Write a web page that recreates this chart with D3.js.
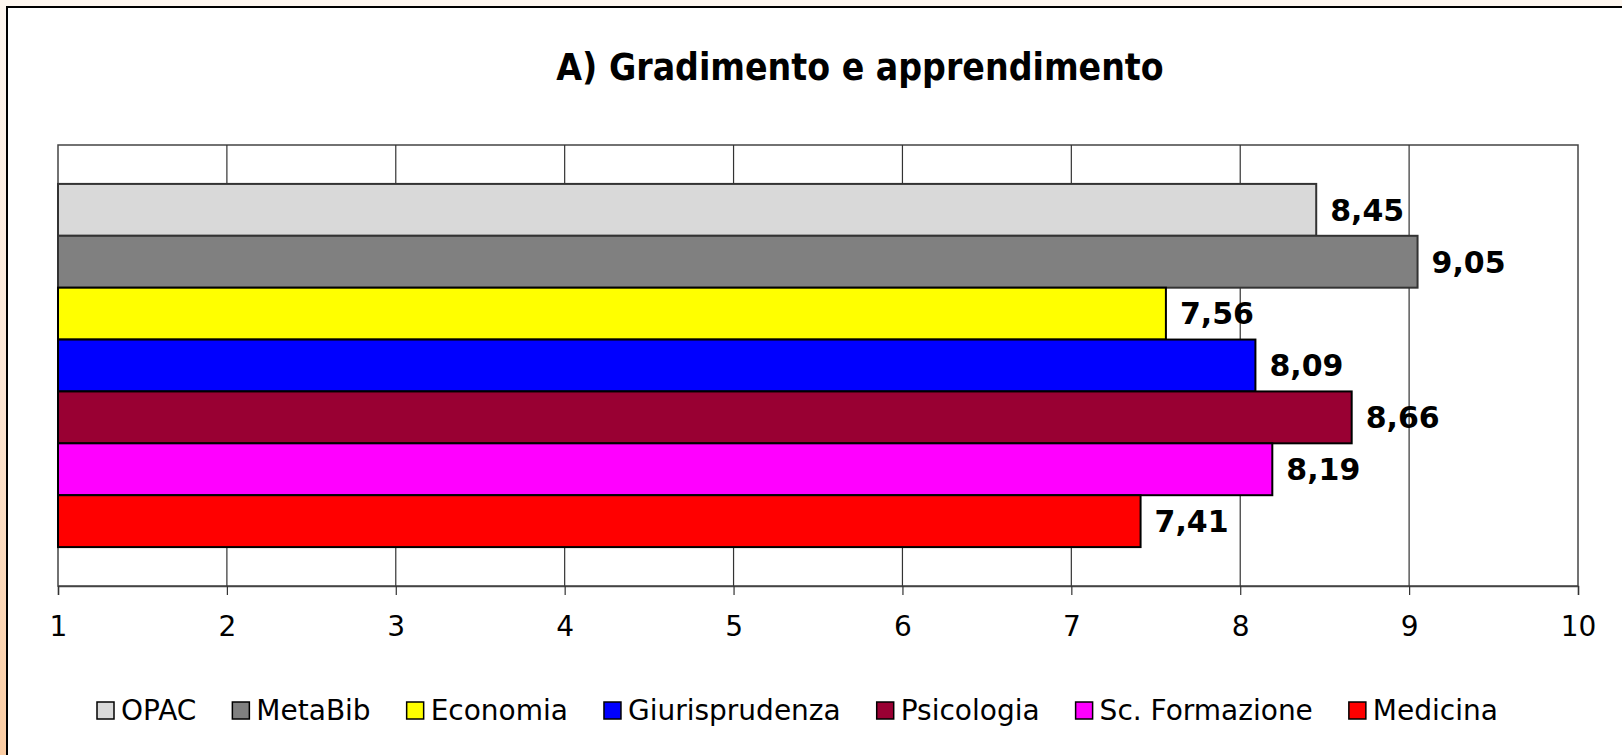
<!DOCTYPE html>
<html>
<head>
<meta charset="utf-8">
<script src="https://d3js.org/d3.v7.min.js"></script>
<style>
  body { margin: 0; overflow: hidden; }
  svg { display: block; }
</style>
</head>
<body>
<svg id="svg" width="1622" height="755"></svg>
<script>
  // data
  var series = ["OPAC", "MetaBib", "Economia", "Giurisprudenza", "Psicologia", "Sc. Formazione", "Medicina"];
  var values = [8.45, 9.05, 7.56, 8.09, 8.66, 8.19, 7.41];
  var labels = ["8,45", "9,05", "7,56", "8,09", "8,66", "8,19", "7,41"];
  var colors = ["#d9d9d9", "#808080", "#ffff00", "#0000ff", "#990033", "#ff00ff", "#ff0000"];
  var ticks = [1, 2, 3, 4, 5, 6, 7, 8, 9, 10];
  var title = "A) Gradimento e apprendimento";

  var svg = d3.select("svg");
  var width = +svg.attr("width");
  var height = +svg.attr("height");

  // peach background + white chart frame
  var defs = svg.append("defs");
  var grad = defs.append("linearGradient").attr("id", "bg").attr("x1", 0).attr("y1", 0).attr("x2", 0).attr("y2", 1);
  grad.append("stop").attr("offset", "0%").attr("stop-color", "#fef7f0");
  grad.append("stop").attr("offset", "50%").attr("stop-color", "#fde7d6");
  grad.append("stop").attr("offset", "100%").attr("stop-color", "#fccda3");
  svg.append("rect").attr("width", width).attr("height", height).attr("fill", "url(#bg)");
  svg.append("rect").attr("x", 7).attr("y", 7).attr("width", width + 10).attr("height", height + 10)
     .attr("fill", "#fff").attr("stroke", "#000").attr("stroke-width", 2);

  var plot = { left: 58, right: 1578, top: 145, bottom: 586 };

  var x = d3.scaleLinear().domain([1, 10]).range([plot.left, plot.right]);
  var y = d3.scaleBand().domain(series).range([plot.top, plot.bottom]).paddingOuter(0.75).paddingInner(0);

  // title
  svg.append("text").attr("x", 860).attr("y", 80)
     .attr("text-anchor", "middle")
     .style("font-family", "'DejaVu Sans Condensed', 'DejaVu Sans', sans-serif")
     .style("font-weight", "bold").style("font-size", "37px")
     .text(title);

  var g = svg.append("g");

  // plot frame and vertical grid
  g.append("rect").attr("x", plot.left).attr("y", plot.top)
   .attr("width", plot.right - plot.left).attr("height", plot.bottom - plot.top)
   .attr("fill", "#fff").attr("stroke", "#444").attr("stroke-width", 1.5);
  g.selectAll(".grid").data(ticks.slice(1, -1)).enter().append("line")
   .attr("x1", function(d){ return x(d); }).attr("x2", function(d){ return x(d); })
   .attr("y1", plot.top).attr("y2", plot.bottom)
   .attr("stroke", "#333").attr("stroke-width", 1.2);

  // bars
  g.selectAll(".bar").data(series).enter().append("rect")
   .attr("x", x(1))
   .attr("y", function(d){ return y(d); })
   .attr("width", function(d, i){ return x(values[i]) - x(1); })
   .attr("height", y.bandwidth())
   .attr("fill", function(d, i){ return colors[i]; })
   .attr("stroke", function(d, i){ return i < 2 ? "#333" : "#000"; })
   .attr("stroke-width", 2);

  // value labels
  g.selectAll(".val").data(series).enter().append("text")
   .attr("x", function(d, i){ return x(values[i]) + 14; })
   .attr("y", function(d){ return y(d) + y.bandwidth() / 2; })
   .attr("dy", "0.36em")
   .style("font-family", "'DejaVu Sans', sans-serif")
   .style("font-weight", "bold").style("font-size", "30px")
   .text(function(d, i){ return labels[i]; });

  // x axis
  var axis = g.append("g").attr("transform", "translate(0," + plot.bottom + ")")
    .call(d3.axisBottom(x).tickValues(ticks).tickSize(9).tickPadding(21).tickFormat(d3.format("d")));
  axis.select(".domain").attr("stroke", "#444").attr("stroke-width", 1.5);
  axis.selectAll(".tick line").attr("stroke", "#333").attr("stroke-width", 1.2);
  axis.selectAll(".tick text")
      .style("font-family", "'DejaVu Sans', sans-serif")
      .style("font-size", "28px").attr("fill", "#000");

  // legend
  var legend = svg.append("g").attr("transform", "translate(97,710)");
  var lx = 0;
  series.forEach(function(s, i){
    var item = legend.append("g").attr("transform", "translate(" + lx + ",0)");
    item.append("rect").attr("x", 0).attr("y", -8).attr("width", 17).attr("height", 17)
        .attr("fill", colors[i]).attr("stroke", "#000").attr("stroke-width", 1.5);
    var t = item.append("text").attr("x", 24).attr("y", 0).attr("dy", "0.36em")
        .style("font-family", "'DejaVu Sans', sans-serif")
        .style("font-size", "28px")
        .text(s);
    lx += 24 + t.node().getComputedTextLength() + 36;
  });
</script>
</body>
</html>
